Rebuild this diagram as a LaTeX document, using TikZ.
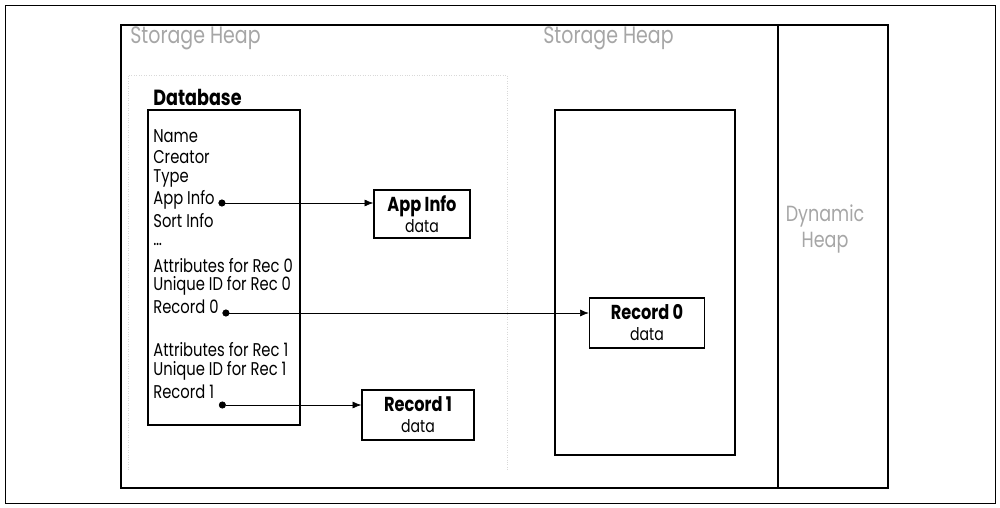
\documentclass[tikz,border=0pt]{standalone}
\usepackage{fontspec}
\setmainfont[FakeStretch=0.8]{Poppins}
\usepackage{tikz}
\usetikzlibrary{positioning, arrows.meta, calc}

\newcommand{\chunktitle}[1]{{\fontsize{11.5}{13}\selectfont\bfseries #1}}

\tikzset{
  heaplabel/.style={text=black!35, font=\fontsize{13.5}{16}\selectfont, inner sep=0pt, anchor=west},
  field/.style={font=\fontsize{10.5}{12}\selectfont, inner sep=0pt, anchor=west},
  databox/.style={draw, thick, align=center, font=\fontsize{10}{12}\selectfont, inner sep=0pt},
  pointer/.style={thin, {Circle[length=4pt]}-{Latex[length=5pt, width=4pt]}, shorten <=-2pt}
}

\begin{document}
\begin{tikzpicture}[x=0.02cm, y=-0.02cm]
  \useasboundingbox (0,0) rectangle (1000,507);

  % Frames
  \draw[thin] (5,5) rectangle (995,503);
  \draw[thick] (121,25) rectangle (888,488);
  \draw[thick] (778,25) -- (778,488);
  \draw[black!15, densely dotted] (128,470) -- (128,75) -- (507,75) -- (507,470);
  \draw[thick] (555,110) rectangle (735,455);

  % Heap labels
  \node[heaplabel] (sheap1) at (130,38) {Storage Heap};
  \node[heaplabel] (sheap2) at (543,38) {Storage Heap};
  \node[text=black!35, font=\fontsize{12.5}{14.5}\selectfont, align=center] (dheap) at (825,229) {Dynamic\\Heap};

  % Database header
  \node[inner sep=0pt, anchor=south west, font=\fontsize{12.5}{14}\selectfont\bfseries] (dbtitle) at (153,106) {Database};
  \draw[thick] (148,110) rectangle (300,425);

  \node[field] (name)     at (153,136) {Name};
  \node[field] (creator)  at (153,157) {Creator};
  \node[field] (type)     at (153,178) {Type};
  \node[field] (appinfo)  at (153,200) {App Info};
  \node[field] (sortinfo) at (153,221) {Sort Info};
  \node[field] (more)     at (153,244) {\dots};
  \node[field] (attr0)    at (153,266) {Attributes for Rec 0};
  \node[field] (uid0)     at (153,286) {Unique ID for Rec 0};
  \node[field] (rec0)     at (153,307) {Record 0};
  \node[field] (attr1)    at (153,350) {Attributes for Rec 1};
  \node[field] (uid1)     at (153,371) {Unique ID for Rec 1};
  \node[field] (rec1)     at (153,392) {Record 1};

  % Chunks
  \node[databox, minimum width=1.92cm, minimum height=0.96cm] (appbox) at (422,214)
    {\chunktitle{App Info}\\data};
  \node[databox, minimum width=2.3cm, minimum height=1.0cm] (rec0box) at (647,323)
    {\chunktitle{Record 0}\\data};
  \node[databox, minimum width=2.24cm, minimum height=1.0cm] (rec1box) at (418,415)
    {\chunktitle{Record 1}\\data};

  % Pointers
  \coordinate (p0) at ($(appinfo.east)+(7,3)$);
  \coordinate (p1) at ($(rec0.east)+(7,6)$);
  \coordinate (p2) at ($(rec1.east)+(8,13)$);
  \draw[pointer] (p0) -- (p0 -| appbox.west);
  \draw[pointer] (p1) -- (p1 -| rec0box.west);
  \draw[pointer] (p2) -- (p2 -| rec1box.west);
\end{tikzpicture}
\end{document}
